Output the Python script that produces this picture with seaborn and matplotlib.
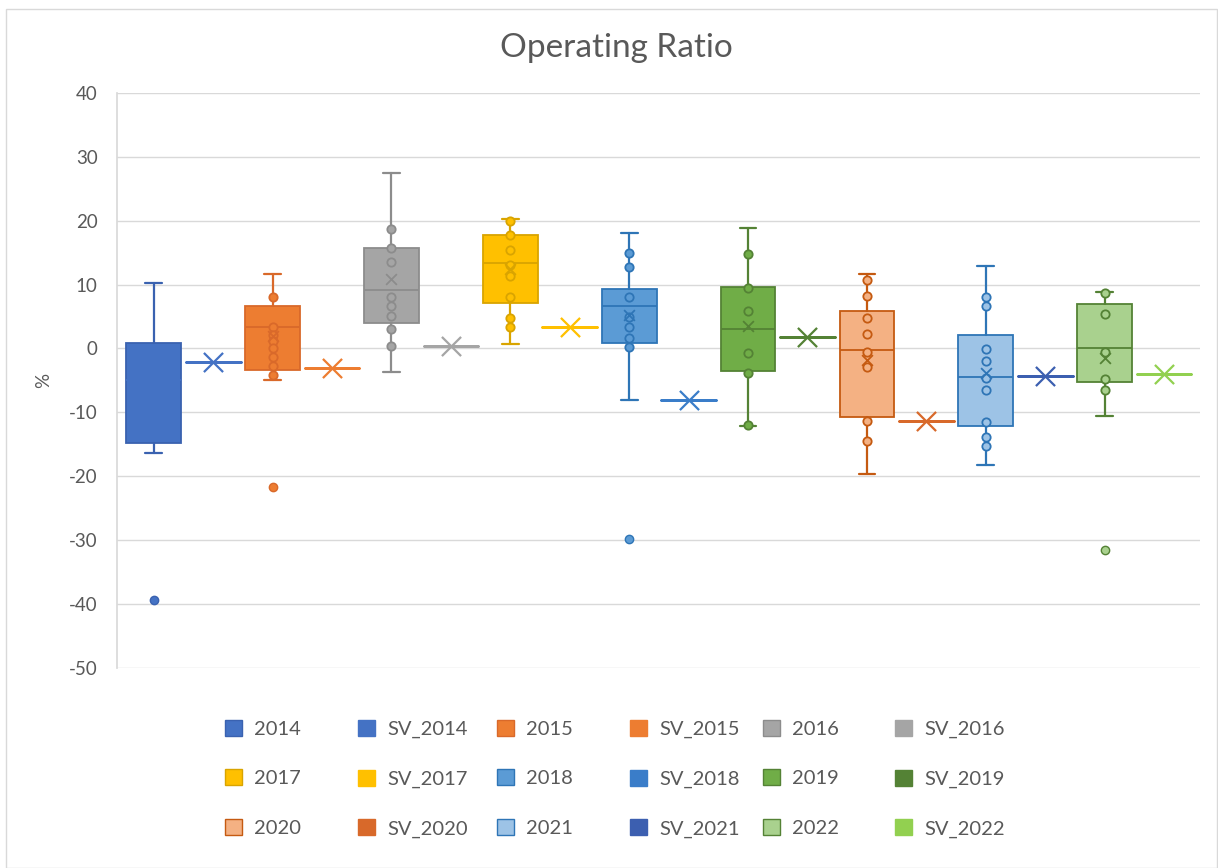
import numpy as np
import pandas as pd
import matplotlib.pyplot as plt
import seaborn as sns
from matplotlib.patches import Patch, Rectangle

sns.set_theme(style="white")
plt.rcParams['font.family'] = ['Lato', 'DejaVu Sans']
plt.rcParams['axes.unicode_minus'] = False

# values (Excel box & whisker, one series per year + single value series)
years = ["2014", "2015", "2016", "2017", "2018", "2019", "2020", "2021", "2022"]
sv_labels = ["SV_" + y for y in years]

whis_lo = [-16.3, -5.0, -3.7, 0.7, -8.0, -12.2, -19.6, -18.2, -10.5]
q1 = [-14.8, -3.3, 4.0, 7.1, 0.9, -3.5, -10.7, -12.2, -5.3]
med = [-5.0, 3.4, 9.2, 13.4, 6.7, 3.0, -0.2, -4.5, 0.1]
q3 = [0.9, 6.6, 15.7, 17.8, 9.3, 9.7, 5.8, 2.1, 7.0]
whis_hi = [10.3, 11.7, 27.4, 20.3, 18.0, 18.9, 11.7, 12.9, 8.9]
means = [-5.5, 2.0, 10.8, 12.5, 5.2, 3.5, -1.8, -3.8, -1.5]
outliers = [[-39.4], [-21.7], [], [], [-29.8], [], [], [], [-31.5]]
inner_points = [
    [],
    [8.1, 3.4, 2.1, 1.1, 0.1, -1.3, -2.8, -4.1],
    [18.7, 15.7, 13.6, 8.1, 6.6, 5.1, 3.1, 0.4],
    [20.0, 17.8, 15.4, 13.1, 11.3, 8.1, 4.7, 3.3],
    [14.9, 12.8, 8.1, 5.0, 3.4, 1.6, 0.3],
    [14.8, 9.4, 5.8, -0.7, -3.8, -12.0],
    [10.7, 8.2, 4.7, 2.3, -0.6, -2.9, -11.3, -14.4],
    [8.1, 6.6, -0.1, -2.0, -4.6, -6.5, -11.5, -13.8, -15.3],
    [8.7, 5.4, -0.5, -4.8, -6.5],
]
sv_values = [-2.1, -3.0, 0.4, 3.4, -8.0, 1.8, -11.3, -4.3, -4.0]

box_fill = ["#4472C4", "#ED7D31", "#A5A5A5", "#FFC000", "#5B9BD5",
            "#70AD47", "#F4B183", "#9DC3E6", "#A9D18E"]
box_edge = ["#3A62B0", "#D9692A", "#8C8C8C", "#D9A400", "#2E75B6",
            "#548235", "#C55A11", "#2E75B6", "#548235"]
sv_color = ["#4472C4", "#ED7D31", "#A5A5A5", "#FFC000", "#3A7DC9",
            "#548235", "#D8692A", "#3C5FB0", "#92D050"]

pos_years = np.arange(len(years)) * 2
pos_sv = pos_years + 1

fig = plt.figure(figsize=(12.18, 8.68), dpi=100)
ax = fig.add_axes([0.096, 0.2304, 0.889, 0.6626])

# year boxes
stats = []
for i in range(len(years)):
    stats.append(dict(whislo=whis_lo[i], q1=q1[i], med=med[i], q3=q3[i],
                      whishi=whis_hi[i], fliers=outliers[i], label=years[i]))
art = ax.bxp(stats, positions=pos_years, widths=0.92, patch_artist=True,
             capwidths=0.28, manage_ticks=False,
             flierprops=dict(marker='o', markersize=6, linestyle='none'))
for i in range(len(years)):
    art['boxes'][i].set_facecolor(box_fill[i])
    art['boxes'][i].set_edgecolor(box_edge[i])
    art['boxes'][i].set_linewidth(1.3)
    med_col = box_fill[i] if i == 0 else box_edge[i]
    art['medians'][i].set_color(med_col)
    art['medians'][i].set_linewidth(1.3)
    for j in (2 * i, 2 * i + 1):
        art['whiskers'][j].set_color(box_edge[i])
        art['whiskers'][j].set_linewidth(1.6)
        art['caps'][j].set_color(box_edge[i])
        art['caps'][j].set_linewidth(1.6)
    art['fliers'][i].set_markerfacecolor(box_fill[i])
    art['fliers'][i].set_markeredgecolor(box_edge[i])

# single value series
sv_stats = [dict(whislo=v, q1=v, med=v, q3=v, whishi=v, fliers=[]) for v in sv_values]
art_sv = ax.bxp(sv_stats, positions=pos_sv, widths=0.92, showcaps=False,
                manage_ticks=False)
for i in range(len(years)):
    art_sv['boxes'][i].set_color(sv_color[i])
    art_sv['boxes'][i].set_linewidth(1.8)
    art_sv['medians'][i].set_color(sv_color[i])
    art_sv['medians'][i].set_linewidth(1.8)
    for w in art_sv['whiskers'][2 * i:2 * i + 2]:
        w.set_visible(False)

# inner points and means
for i in range(len(years)):
    if inner_points[i]:
        sns.scatterplot(x=[pos_years[i]] * len(inner_points[i]), y=inner_points[i],
                        color=box_fill[i], edgecolor=box_edge[i], linewidth=1.3,
                        s=36, ax=ax, zorder=4)
    mcol = box_fill[i] if i == 0 else box_edge[i]
    sns.scatterplot(x=[pos_years[i]], y=[means[i]], marker='x', color=mcol,
                    s=60, linewidth=1.3, ax=ax, zorder=4)
    sns.scatterplot(x=[pos_sv[i]], y=[sv_values[i]], marker='x', color=sv_color[i],
                    s=190, linewidth=1.6, ax=ax, zorder=4)

ax.set_xlim(-0.62, 17.6)
ax.set_ylim(-50, 40)
ax.set_yticks(range(-50, 41, 10))
ax.set_xticks([])
ax.yaxis.grid(True, color="#D9D9D9", linewidth=1)
ax.set_axisbelow(True)
for s in ["top", "right", "bottom"]:
    ax.spines[s].set_visible(False)
ax.spines["left"].set_color("#D9D9D9")
ax.tick_params(axis='y', length=0, pad=14, labelsize=13.5, labelcolor="#595959")
ax.set_ylabel("%", fontsize=13.5, color="#595959", labelpad=12)

fig.text(0.506, 0.945, "Operating Ratio", ha="center", va="center",
         fontsize=24, color="#595959")

# legend, 3 rows x 6 columns filled row by row
labels = []
handles = []
for i in range(len(years)):
    labels += [years[i], sv_labels[i]]
    handles += [Patch(facecolor=box_fill[i], edgecolor=box_edge[i], linewidth=1),
                Patch(facecolor=sv_color[i], edgecolor=sv_color[i], linewidth=1)]
col_x = [225, 358, 497, 630, 763, 895]
for c in range(6):
    idx = [r * 6 + c for r in range(3)]
    fig.legend([handles[k] for k in idx], [labels[k] for k in idx],
               loc="upper left", bbox_to_anchor=(col_x[c] / 1218, 1 - 720 / 868),
               frameon=False, fontsize=14.5, labelcolor="#595959",
               handlelength=0.85, handleheight=0.85, handletextpad=0.6,
               labelspacing=1.56, borderpad=0, borderaxespad=0)

fig.add_artist(Rectangle((0.005, 0.0), 0.994, 0.99, transform=fig.transFigure,
                         fill=False, edgecolor="#D9D9D9", linewidth=1))

fig.savefig("out.png", dpi=100)
